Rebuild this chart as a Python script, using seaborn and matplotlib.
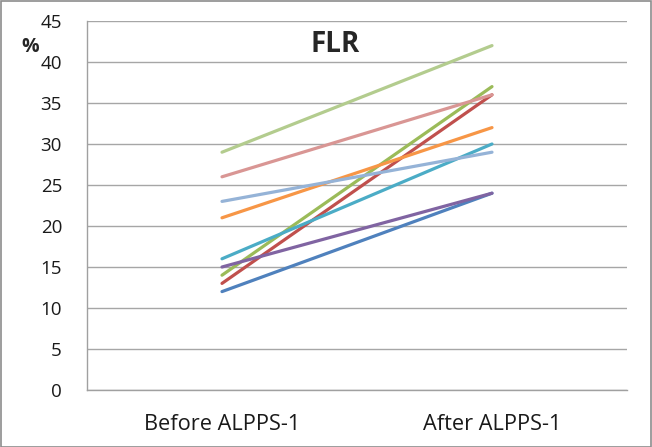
import matplotlib
matplotlib.use("Agg")
import matplotlib.pyplot as plt
import seaborn as sns
import pandas as pd
from matplotlib.patches import Rectangle

categories = ["Before ALPPS-1", "After ALPPS-1"]
series_names = ["P1", "P2", "P3", "P4", "P5", "P6", "P7", "P8", "P9"]
before = [12, 13, 14, 15, 16, 21, 23, 26, 29]
after = [24, 36, 37, 24, 30, 32, 29, 36, 42]
colors = ["#4F81BD", "#C0504D", "#9BBB59", "#8064A2", "#4BACC6",
          "#F79646", "#95B3D7", "#D99694", "#B3CC8E"]
y_ticks = [0, 5, 10, 15, 20, 25, 30, 35, 40, 45]

rows = []
for name, b, a in zip(series_names, before, after):
    rows.append({"series": name, "pos": 0, "value": b})
    rows.append({"series": name, "pos": 1, "value": a})
df = pd.DataFrame(rows)

sns.set_theme(style="white")
plt.rcParams['font.family'] = ['Open Sans', 'DejaVu Sans']

fig = plt.figure(figsize=(6.52, 4.47), dpi=100)
ax = fig.add_axes([87/652, 1-390/447, 540/652, 369/447])

sns.lineplot(data=df, x="pos", y="value", hue="series", palette=colors,
             hue_order=series_names, linewidth=2.3, legend=False, ax=ax,
             estimator=None)

ax.set_xlim(-0.5, 1.5)
ax.set_ylim(0, 45)
ax.set_yticks(y_ticks)
ax.set_yticklabels([str(t) for t in y_ticks], fontsize=13.5, color="#1A1A1A")
ax.set_xticks([0, 1])
ax.set_xticklabels(categories, fontsize=15.7, color="#1A1A1A")
ax.set_xticks([-0.5, 0.5, 1.5], minor=True)
ax.tick_params(axis="x", which="major", length=0, pad=17)
ax.tick_params(axis="x", which="minor", length=7, color="#A0A0A0", width=1)
ax.tick_params(axis="y", which="major", length=7, color="#A0A0A0", width=1, pad=11)
ax.set_xlabel("")
ax.set_ylabel("")
ax.yaxis.grid(True, color="#A6A6A6", linewidth=1)
ax.set_axisbelow(True)
for s in ["top", "right"]:
    ax.spines[s].set_visible(False)
for s in ["left", "bottom"]:
    ax.spines[s].set_color("#A0A0A0")
    ax.spines[s].set_linewidth(1)

fig.text(335/652, 1-44/447, "FLR", fontsize=20, fontweight="bold",
         ha="center", va="center")
fig.text(30/652, 1-47/447, "%", fontsize=14, fontweight="bold",
         ha="center", va="center")

fig.patches.append(Rectangle((0.001, 0.001), 0.997, 0.997, transform=fig.transFigure,
                             fill=False, edgecolor="#8C8C8C", linewidth=1.2))

fig.savefig("out.png", dpi=100)
